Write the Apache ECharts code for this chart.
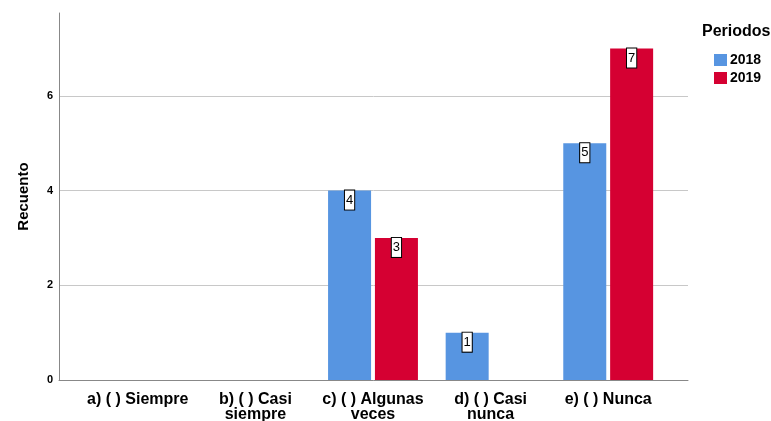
<!DOCTYPE html>
<html><head><meta charset="utf-8">
<script src="https://cdn.jsdelivr.net/npm/echarts@6/dist/echarts.min.js"></script>
<style>html,body{margin:0;padding:0;background:#fff}#c{width:771px;height:421px}</style>
</head><body><div id="c"></div>
<script>
const categories = ['a) ( ) Siempre', 'b) ( ) Casi\nsiempre', 'c) ( ) Algunas\nveces', 'd) ( ) Casi\nnunca', 'e) ( ) Nunca'];
const values2018 = [0, 0, 4, 1, 5];
const values2019 = [0, 0, 3, 0, 7];
const seriesNames = ['2018', '2019'];
const yTicks = [0, 2, 4, 6];

const FONT = 'Liberation Sans, Arial, sans-serif';
const chart = echarts.init(document.getElementById('c'), null, {renderer: 'canvas'});
function items(arr) {
  return arr.map(v => ({value: v, label: {show: v > 0}}));
}
const labelStyle = {
  position: 'insideTop', distance: 0,
  color: '#000', fontFamily: FONT, fontSize: 13, lineHeight: 13,
  backgroundColor: '#fff', borderColor: '#000', borderWidth: 1,
  padding: [3, 1, 3, 1]
};
chart.setOption({
  animation: false,
  textStyle: {fontFamily: FONT},
  title: {text: 'Periodos', left: 697, top: 19, textStyle: {fontFamily: FONT, fontSize: 16, fontWeight: 'bold', color: '#000'}},
  legend: {
    orient: 'vertical', left: 709, top: 48, itemWidth: 13, itemHeight: 12, itemGap: 4,
    icon: 'rect', textStyle: {fontFamily: FONT, fontSize: 14, fontWeight: 'bold', color: '#000', padding: [0,0,0,-2]},
    data: seriesNames
  },
  grid: [
    {left: 59, right: 83, top: 13, bottom: 41, outerBoundsMode: 'none', containLabel: false},
    {left: 79, right: 104, top: 13, bottom: 41, outerBoundsMode: 'none', containLabel: false}
  ],
  xAxis: [
    {gridIndex: 0, type: 'value', min: 0, max: 1, axisLine: {show: true, lineStyle: {color: '#888', width: 1}}, axisTick: {show: false}, axisLabel: {show: false}, splitLine: {show: false}},
    {gridIndex: 1, type: 'category', data: categories, axisLine: {show: false}, axisTick: {show: false},
     axisLabel: {margin: 12, interval: 0, fontFamily: FONT, fontSize: 16, fontWeight: 'bold', color: '#000', lineHeight: 15}}
  ],
  yAxis: [
    {gridIndex: 0, type: 'value', min: 0, max: 7.75, interval: 2,
     name: 'Recuento', nameLocation: 'middle', nameGap: 28, nameTextStyle: {fontFamily: FONT, fontSize: 15, fontWeight: 'bold', color: '#000'},
     axisLine: {show: true, lineStyle: {color: '#888', width: 1}}, axisTick: {show: false},
     axisLabel: {showMaxLabel: false, margin: 6, fontFamily: FONT, fontSize: 11, fontWeight: 'bold', color: '#000',
       formatter: v => yTicks.includes(v) ? String(v) : ''},
     splitLine: {show: true, showMaxLine: false, lineStyle: {color: '#c8c8c8', width: 1}}},
    {gridIndex: 1, type: 'value', min: 0, max: 7.75, interval: 2, show: false, splitLine: {show: false}}
  ],
  series: [
    {name: seriesNames[0], type: 'bar', xAxisIndex: 1, yAxisIndex: 1, data: items(values2018), barWidth: 43, barGap: '9%',
     itemStyle: {color: '#5795e1'}, label: labelStyle},
    {name: seriesNames[1], type: 'bar', xAxisIndex: 1, yAxisIndex: 1, data: items(values2019), barWidth: 43, barGap: '9%',
     itemStyle: {color: '#d50032'}, label: labelStyle}
  ]
});
</script></body></html>
